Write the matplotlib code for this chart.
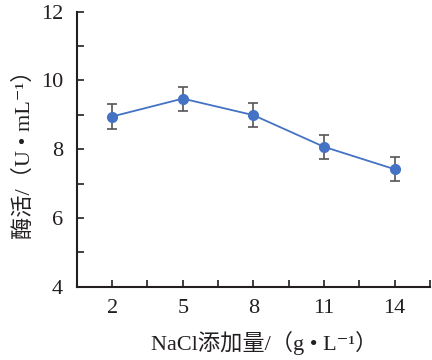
import numpy as np
import matplotlib.pyplot as plt
from matplotlib.ticker import MultipleLocator

# data
nacl = ["2", "5", "8", "11", "14"]
activity = [8.95, 9.47, 8.99, 8.07, 7.42]
err = [0.35, 0.35, 0.35, 0.35, 0.35]

plt.rcParams['font.family'] = ['Liberation Serif', 'Noto Sans CJK SC', 'DejaVu Serif']

fig = plt.figure(figsize=(4.32, 3.6), dpi=100)
ax = fig.add_axes([0.178, 0.203, 0.817, 0.765])

x = np.arange(len(nacl))
ax.errorbar(x, activity, yerr=err, color='#4472C4', lw=1.3, marker='o',
            markersize=7, ecolor='#555555', elinewidth=1.2, capsize=3.5,
            capthick=1.2, zorder=3)

ax.set_xlim(-0.5, len(nacl) - 0.5)
ax.set_ylim(4, 12)
ax.set_xticks(x)
ax.set_xticklabels(nacl)
ax.xaxis.set_minor_locator(MultipleLocator(0.5))
ax.yaxis.set_major_locator(MultipleLocator(2))
ax.yaxis.set_minor_locator(MultipleLocator(1))

ax.spines['top'].set_color('none')
ax.spines['right'].set_color('none')
for s in ['left', 'bottom']:
    ax.spines[s].set_linewidth(1.5)
    ax.spines[s].set_color('#231f20')
ax.tick_params(which='both', direction='in', color='#231f20', width=1.2,
               labelsize=16, labelcolor='#231f20')
ax.tick_params(which='major', length=5)
ax.tick_params(which='minor', length=5)
ax.tick_params(axis='x', pad=9)
ax.tick_params(axis='y', pad=10)

ax.set_xlabel('NaCl添加量/（g • L⁻¹）', fontsize=16, color='#231f20')
ax.xaxis.set_label_coords(0.53, -0.16)
ax.set_ylabel('酶活/（U • mL⁻¹）', fontsize=16, color='#231f20', labelpad=4)

fig.savefig('out.png', dpi=100)
